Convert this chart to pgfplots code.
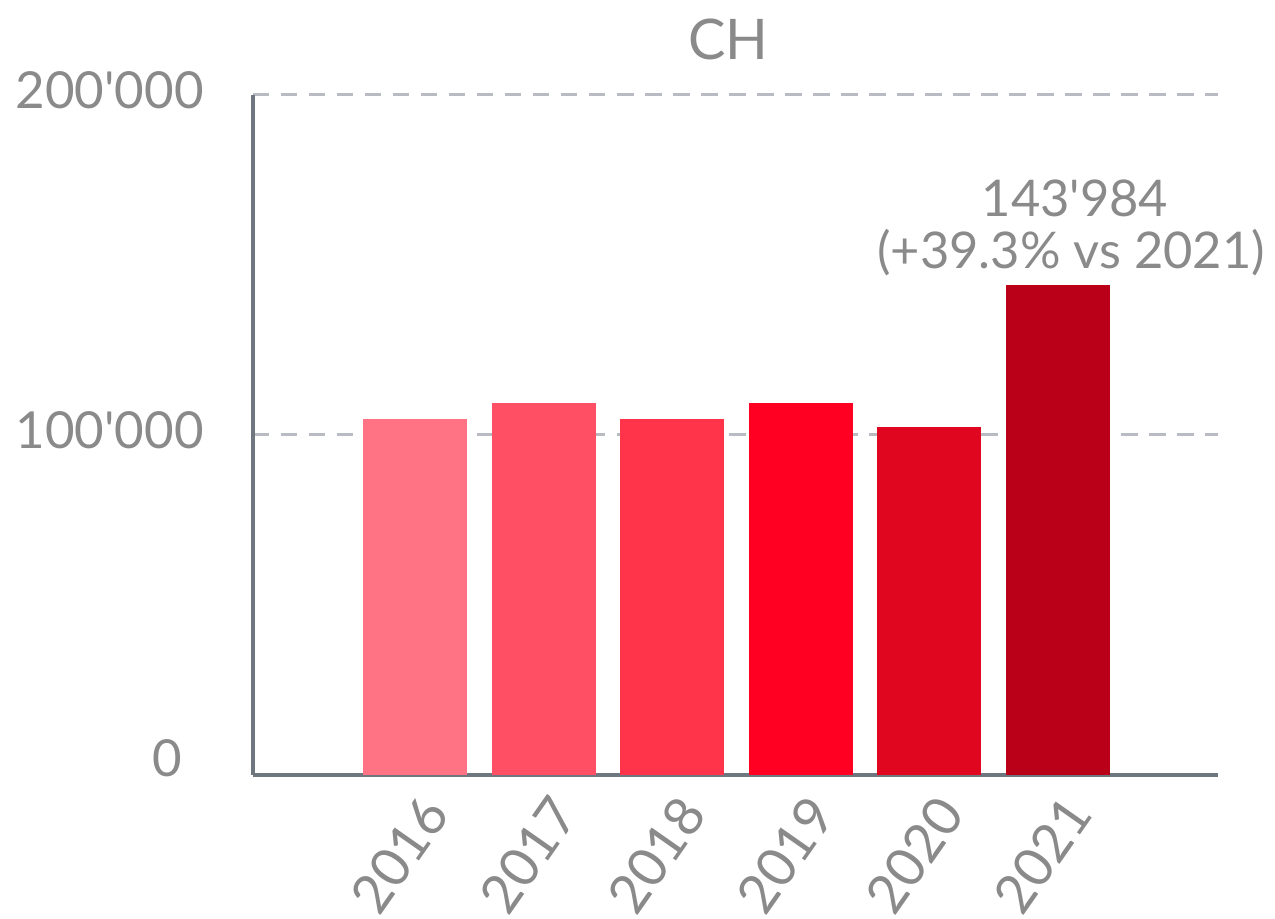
\documentclass[border=0pt]{standalone}
\usepackage{fontspec}
\setmainfont{Lato}[Ligatures=TeXOff]
\usepackage{pgfplots}
\pgfplotsset{compat=1.18}
\definecolor{c16}{HTML}{FF7385}
\definecolor{c17}{HTML}{FF4F65}
\definecolor{c18}{HTML}{FF334A}
\definecolor{c19}{HTML}{FF0022}
\definecolor{c20}{HTML}{E0061F}
\definecolor{c21}{HTML}{BA0019}
\definecolor{txt}{HTML}{8A8A8A}
\definecolor{axc}{HTML}{6E7680}
\definecolor{grd}{HTML}{B8BCC2}
\begin{document}
\begin{tikzpicture}
\begin{axis}[
  scale only axis, width=482.5bp, height=339.75bp,
  xmin=-1.26, xmax=6.244, ymin=0, ymax=200000,
  clip=false,
  scaled y ticks=false,
  axis lines*=left,
  axis line style={axc, line width=2bp},
  xtick={0,1,2,3,4,5},
  xticklabels={2016,2017,2018,2019,2020,2021},
  ytick={100000,200000},
  yticklabels={100'000,200'000},
  extra y ticks={0}, extra y tick labels={0},
  extra y tick style={grid=none, yticklabel style={xshift=-11bp, yshift=5.5bp}},
  major tick length=0pt,
  ymajorgrids,
  major grid style={grd, line width=1.5bp, dash pattern=on 8.25bp off 5.75bp},
  /pgf/number format/assume math mode=true,
  yticklabel style={font=\fontsize{25.5bp}{30bp}\selectfont, text=txt, anchor=east, inner sep=0pt, xshift=-24.5bp, yshift=2.5bp},
  xticklabel style={font=\fontsize{27bp}{32bp}\selectfont, text=txt, xshift=10.5bp, yshift=-14.5bp, rotate=55, anchor=east, inner sep=0pt},
  title={CH},
  title style={font=\fontsize{28bp}{32bp}\selectfont, text=txt, at={(0.5,1)}, anchor=base, yshift=12bp, xshift=-3.5bp},
]
\addplot[ybar, bar width=0.809, bar shift=0pt, fill=c16, draw=none] coordinates {(0,104500)};
\addplot[ybar, bar width=0.809, bar shift=0pt, fill=c17, draw=none] coordinates {(1,109200)};
\addplot[ybar, bar width=0.809, bar shift=0pt, fill=c18, draw=none] coordinates {(2,104500)};
\addplot[ybar, bar width=0.809, bar shift=0pt, fill=c19, draw=none] coordinates {(3,109200)};
\addplot[ybar, bar width=0.809, bar shift=0pt, fill=c20, draw=none] coordinates {(4,102200)};
\addplot[ybar, bar width=0.809, bar shift=0pt, fill=c21, draw=none] coordinates {(5,143984)};
\node[anchor=base, text=txt, font=\fontsize{25.3bp}{30bp}\selectfont, xshift=6.5bp, yshift=8.65bp, inner sep=0pt] at (axis cs:5,143984) {(+39.3\% vs 2021)};
\node[anchor=base, text=txt, font=\fontsize{25.3bp}{30bp}\selectfont, xshift=8.5bp, yshift=34.65bp, inner sep=0pt] at (axis cs:5,143984) {143'984};
\end{axis}
\pgfresetboundingbox
\useasboundingbox (-126.5bp,-72.25bp) rectangle (511bp,387.25bp);
\end{tikzpicture}
\end{document}
